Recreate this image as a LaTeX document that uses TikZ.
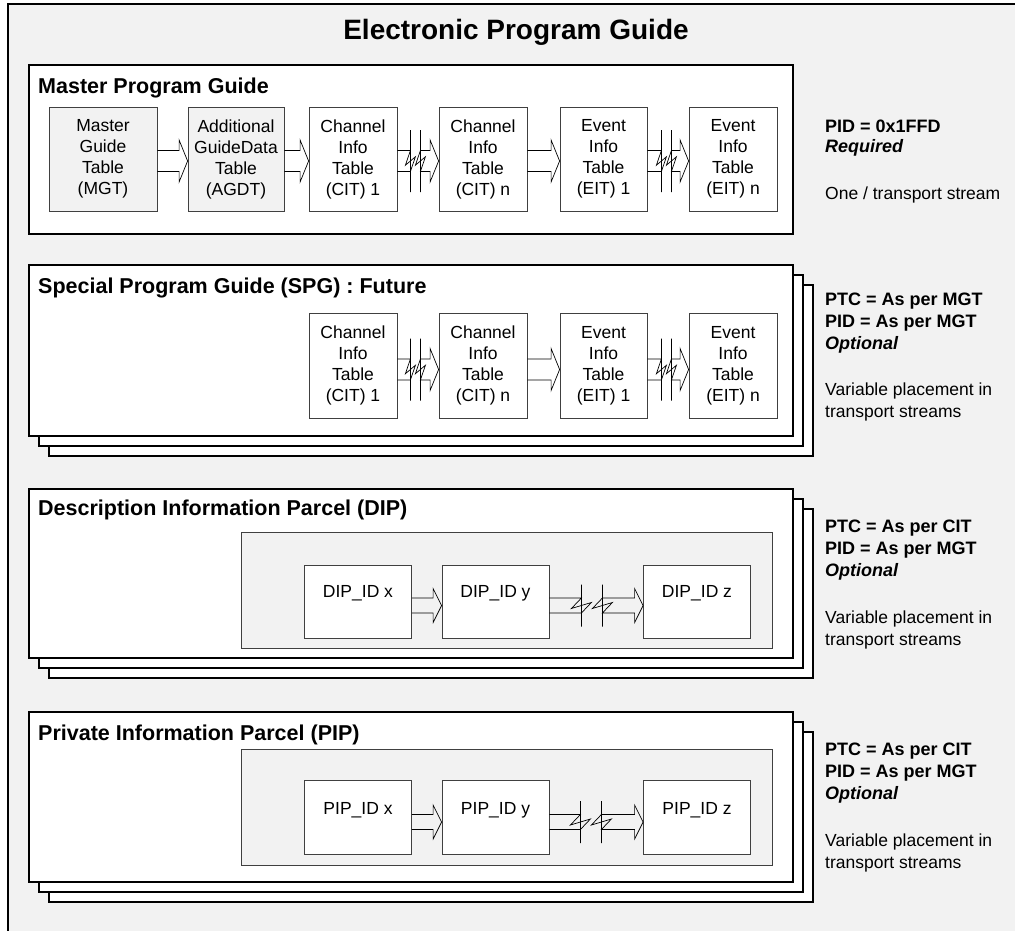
\documentclass[tikz,border=0pt]{standalone}
\usepackage{fontspec}
\setmainfont{Liberation Sans}
\usetikzlibrary{calc}
\definecolor{bg}{HTML}{F2F2F2}
\definecolor{boxline}{HTML}{404040}
\newcommand{\fatarrow}[5]{%
\draw[arr] let \p1=(#1.east), \p2=(#2.west) in
 (\x1,{\y1+(#3)+(#4)}) -- ({\x2-8.5pt},{\y1+(#3)+(#4)}) -- ({\x2-8.5pt},{\y1+(#3)+(#5)}) -- (\x2,{\y1+(#3)}) -- ({\x2-8.5pt},{\y1+(#3)-(#5)}) -- ({\x2-8.5pt},{\y1+(#3)-(#4)}) -- (\x1,{\y1+(#3)-(#4)});}
\newcommand{\brokenarrow}[9]{%
\draw[arr] let \p1=(#1.east), \p2=(#2.west) in
 (\x1,{\y1+(#3)+(#4)}) -- ({\x1+(#6)},{\y1+(#3)+(#4)}) -- ({\x1+(#6)-(#9)},{\y1+(#3)-0.4*(#4)}) -- ({\x1+(#6)+(#9)},{\y1+(#3)+0.4*(#4)}) -- ({\x1+(#6)},{\y1+(#3)-(#4)}) -- (\x1,{\y1+(#3)-(#4)})
 ({\x1+(#6)},{\y1+(#3)+(#8)}) -- ({\x1+(#6)},{\y1+(#3)-(#8)})
 ({\x1+(#7)},{\y1+(#3)+(#8)}) -- ({\x1+(#7)},{\y1+(#3)-(#8)})
 ({\x1+(#7)},{\y1+(#3)+(#4)}) -- ({\x2-8.5pt},{\y1+(#3)+(#4)}) -- ({\x2-8.5pt},{\y1+(#3)+(#5)}) -- (\x2,{\y1+(#3)}) -- ({\x2-8.5pt},{\y1+(#3)-(#5)}) -- ({\x2-8.5pt},{\y1+(#3)-(#4)}) -- ({\x1+(#7)},{\y1+(#3)-(#4)}) -- ({\x1+(#7)+(#9)},{\y1+(#3)+0.4*(#4)}) -- ({\x1+(#7)-(#9)},{\y1+(#3)-0.4*(#4)}) -- cycle;}
\begin{document}
\begin{tikzpicture}[x=1pt,y=-1pt,
  frame/.style={draw=black, line width=2pt, fill=white},
  tbox/.style={draw=boxline, line width=0.8pt, fill=white, minimum width=88pt, minimum height=104pt, inner sep=0pt, align=center, font=\fontsize{17.5}{21}\selectfont},
  gbox/.style={tbox, fill=bg},
  idbox/.style={draw=boxline, line width=0.8pt, fill=white, minimum width=107pt, minimum height=73pt, inner sep=0pt},
  inner/.style={draw=boxline, line width=0.8pt, fill=bg},
  arr/.style={draw=black, line width=0.7pt, line join=miter},
  sectitle/.style={anchor=base west, inner sep=0pt, font=\bfseries\fontsize{21.5}{25}\selectfont},
  note/.style={anchor=base west, inner sep=0pt, font=\bfseries\fontsize{18}{21}\selectfont},
  notei/.style={anchor=base west, inner sep=0pt, font=\bfseries\itshape\fontsize{18}{21}\selectfont},
  plain/.style={anchor=base west, inner sep=0pt, font=\fontsize{17.5}{21}\selectfont},
  idlabel/.style={font=\fontsize{17.5}{21}\selectfont}
]
\clip (0,0) rectangle (1015,930);
\fill[white] (0,0) rectangle (1015,930);
\draw[line width=2pt, fill=bg] (8,4) rectangle (1040,960);
\node[anchor=base, inner sep=0pt, font=\bfseries\fontsize{28}{32}\selectfont] (title) at (516,39) {Electronic Program Guide};

% ---------- Master Program Guide ----------
\draw[frame] (29,65) rectangle (793,234);
\node[sectitle] (mpgt) at (38,93) {Master Program Guide};
\node[gbox, minimum width=108pt] (mgt) at (103,159) {Master\\Guide\\Table\\(MGT)};
\node[gbox, minimum width=96pt] (agdt) at (236,159) {Additional\\GuideData\\Table\\(AGDT)};
\node[tbox] (cit1) at (353,159) {Channel\\Info\\Table\\(CIT) 1};
\node[tbox] (citn) at (483,159) {Channel\\Info\\Table\\(CIT) n};
\node[tbox, minimum width=87pt] (eit1) at (603.5,159) {Event\\Info\\Table\\(EIT) 1};
\node[tbox] (eitn) at (733,159) {Event\\Info\\Table\\(EIT) n};
\fatarrow{mgt}{agdt}{-2pt}{10.5pt}{21pt}
\fatarrow{agdt}{cit1}{-2pt}{10.5pt}{21pt}
\brokenarrow{cit1}{citn}{-2pt}{10.5pt}{21pt}{13pt}{23pt}{31pt}{5pt}
\fatarrow{citn}{eit1}{-2pt}{10.5pt}{21pt}
\brokenarrow{eit1}{eitn}{-2pt}{10.5pt}{21pt}{14pt}{24pt}{31pt}{5pt}
\node[note] (m1) at (825,132.5) {PID = 0x1FFD};
\node[notei] (m2) at (825,152.5) {Required};
\node[plain] (m3) at (825,199) {One / transport stream};

% ---------- Special Program Guide ----------
\draw[frame] (49,285) rectangle (813,456);
\draw[frame] (39,275) rectangle (803,446);
\draw[frame] (29,265) rectangle (793,436);
\node[sectitle] (spgt) at (38,293) {Special Program Guide (SPG) : Future};
\node[tbox, minimum height=105pt] (scit1) at (353,365.5) {Channel\\Info\\Table\\(CIT) 1};
\node[tbox, minimum height=105pt] (scitn) at (483,365.5) {Channel\\Info\\Table\\(CIT) n};
\node[tbox, minimum height=105pt, minimum width=87pt] (seit1) at (603.5,365.5) {Event\\Info\\Table\\(EIT) 1};
\node[tbox, minimum height=105pt] (seitn) at (733,365.5) {Event\\Info\\Table\\(EIT) n};
\brokenarrow{scit1}{scitn}{-4pt}{10.5pt}{21pt}{13pt}{23pt}{31pt}{5pt}
\fatarrow{scitn}{seit1}{-4pt}{10.5pt}{21pt}
\brokenarrow{seit1}{seitn}{-4pt}{10.5pt}{21pt}{14pt}{24pt}{31pt}{5pt}
\node[note] (s1) at (825,305) {PTC = As per MGT};
\node[note] (s2) at (825,327) {PID = As per MGT};
\node[notei] (s3) at (825,349) {Optional};
\node[plain] (s4) at (825,395) {Variable placement in};
\node[plain] (s5) at (825,417) {transport streams};

% ---------- Description Information Parcel ----------
\draw[frame] (49,509) rectangle (813,678);
\draw[frame] (39,499) rectangle (803,668);
\draw[frame] (29,489) rectangle (793,658);
\node[sectitle] (dipt) at (38,515) {Description Information Parcel (DIP)};
\draw[inner] (241,532) rectangle (772,648);
\node[idbox, label={[idlabel, yshift=8.5pt]center:DIP\_ID x}] (dipx) at (358,601.5) {};
\node[idbox, label={[idlabel, yshift=8.5pt]center:DIP\_ID y}] (dipy) at (495.5,601.5) {};
\node[idbox, label={[idlabel, yshift=8.5pt]center:DIP\_ID z}] (dipz) at (697,601.5) {};
\fatarrow{dipx}{dipy}{-4pt}{7.5pt}{17pt}
\brokenarrow{dipy}{dipz}{-4pt}{7.5pt}{17pt}{32pt}{53pt}{21pt}{10pt}
\node[note] (d1) at (825,532.5) {PTC = As per CIT};
\node[note] (d2) at (825,554.5) {PID = As per MGT};
\node[notei] (d3) at (825,576.5) {Optional};
\node[plain] (d4) at (825,623.5) {Variable placement in};
\node[plain] (d5) at (825,645.5) {transport streams};

% ---------- Private Information Parcel ----------
\draw[frame] (49,732) rectangle (813,902);
\draw[frame] (39,722) rectangle (803,892);
\draw[frame] (29,712) rectangle (793,882);
\node[sectitle] (pipt) at (38,740) {Private Information Parcel (PIP)};
\draw[inner] (241,749) rectangle (772,865);
\node[idbox, minimum height=74pt, label={[idlabel, yshift=7pt]center:PIP\_ID x}] (pipx) at (358,817) {};
\node[idbox, minimum height=74pt, label={[idlabel, yshift=7pt]center:PIP\_ID y}] (pipy) at (495.5,817) {};
\node[idbox, minimum height=74pt, label={[idlabel, yshift=7pt]center:PIP\_ID z}] (pipz) at (697,817) {};
\fatarrow{pipx}{pipy}{-5pt}{7.5pt}{17pt}
\brokenarrow{pipy}{pipz}{-5pt}{7.5pt}{17pt}{31pt}{52pt}{21pt}{10pt}
\node[note] (p1) at (825,755.5) {PTC = As per CIT};
\node[note] (p2) at (825,777.5) {PID = As per MGT};
\node[notei] (p3) at (825,799.5) {Optional};
\node[plain] (p4) at (825,846) {Variable placement in};
\node[plain] (p5) at (825,868) {transport streams};
\end{tikzpicture}
\end{document}
